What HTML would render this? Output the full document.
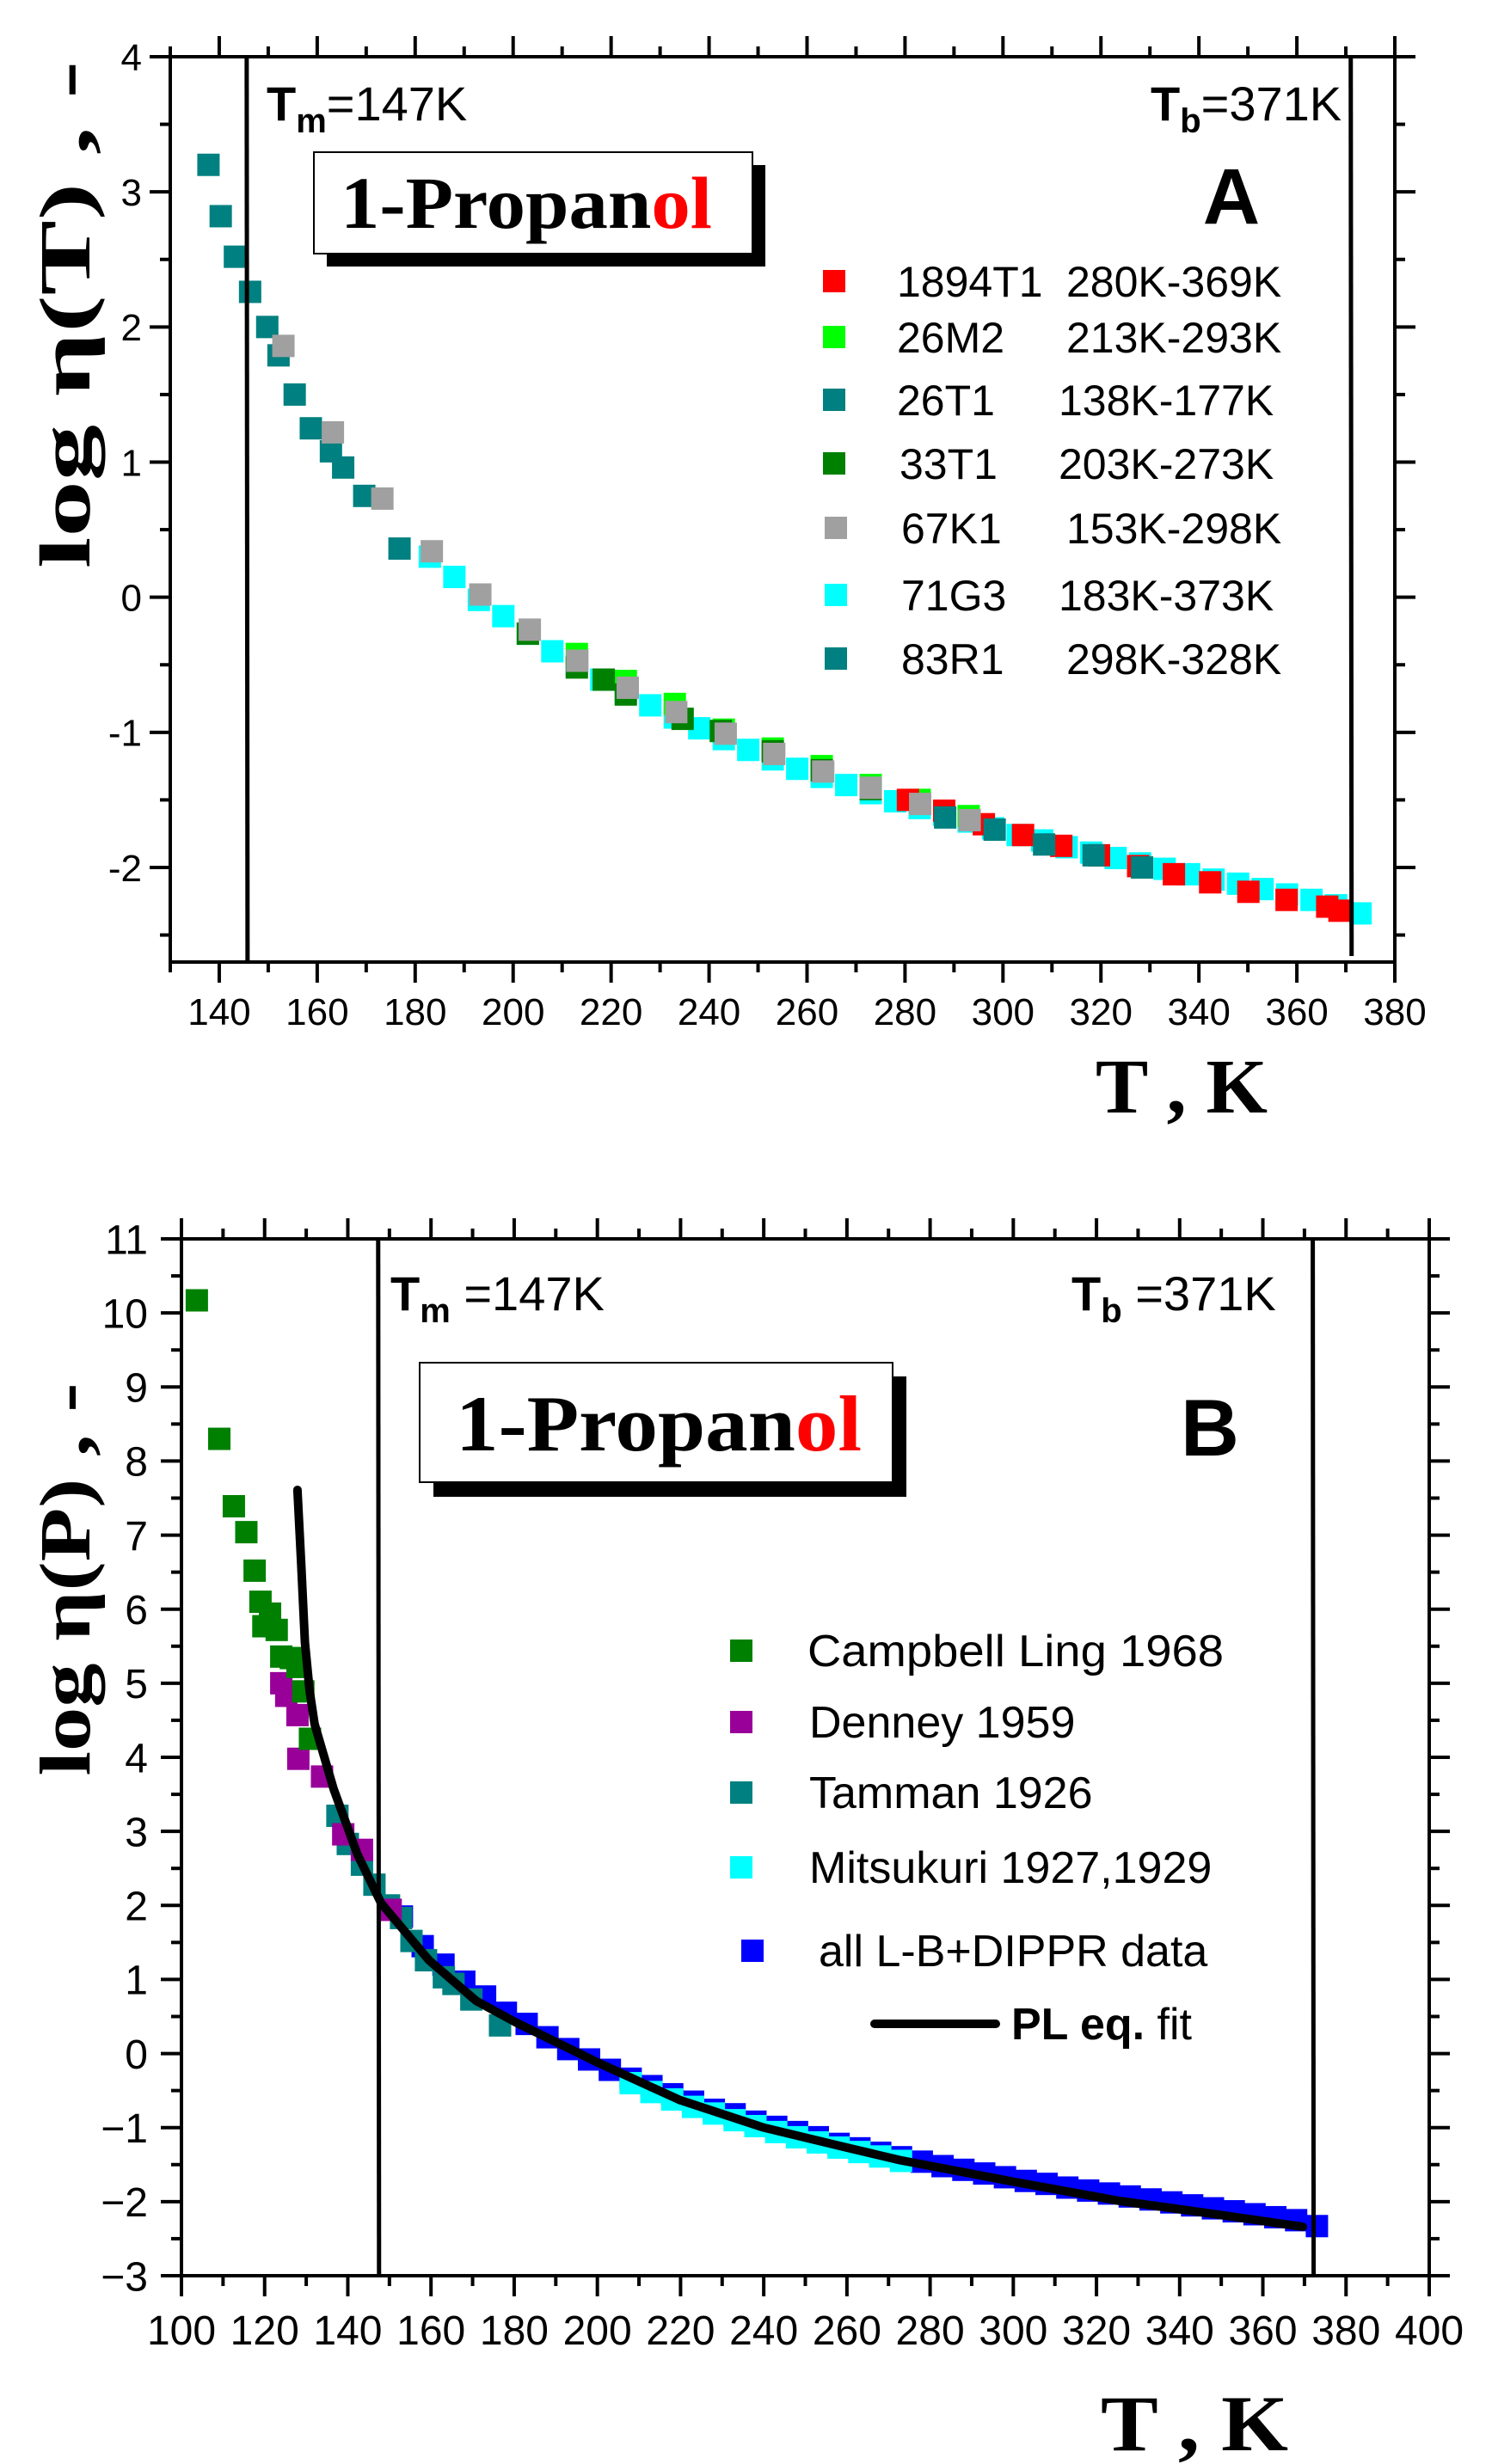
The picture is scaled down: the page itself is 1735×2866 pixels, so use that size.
<!DOCTYPE html>
<html><head><meta charset="utf-8"><style>
html,body{margin:0;padding:0;background:#fff;}
svg{display:block;}
text{font-family:"Liberation Sans",Arial,sans-serif;}
.serif{font-family:"Liberation Serif","Times New Roman",serif;font-weight:bold;}
</style></head><body>
<svg id="fig" width="1735" height="2866" viewBox="0 0 1735 2866" xmlns="http://www.w3.org/2000/svg">
<rect x="0" y="0" width="1735" height="2866" fill="#fff"/>
<g id="pa"></g>
<g id="pb"></g>
</svg>
<script>
// ---------- Panel A data ----------
const aXTicks = [140,160,180,200,220,240,260,280,300,320,340,360,380];
const aYTicks = [-2,-1,0,1,2,3,4];
const a1894T1T = [280.6,288,296.1,304.1,311.9,319.6,327.6,334.9,342.3,350.1,357.9,366.2,368.7];
const a1894T1V = [-1.50,-1.58,-1.68,-1.76,-1.84,-1.91,-1.99,-2.05,-2.11,-2.18,-2.24,-2.29,-2.32];
const a26M2T = [213,223,233,243,253,263,273,283,293];
const a26M2V = [-0.42,-0.62,-0.79,-0.98,-1.12,-1.25,-1.39,-1.50,-1.62];
const a26T1T = [137.8,140.3,143.2,146.3,149.8,152.1,155.4,158.7,162.8,165.3,169.6,176.8];
const a26T1V = [3.20,2.82,2.52,2.26,2.00,1.79,1.50,1.25,1.08,0.96,0.75,0.36];
const a33T1T = [203,213,218.5,223,234.6,242.4,253,263,273];
const a33T1V = [-0.27,-0.52,-0.61,-0.72,-0.90,-0.99,-1.14,-1.28,-1.42];
const a67K1T = [153.1,163.2,173.3,183.4,193.3,203.4,213.1,223.4,233.3,243.4,253.3,263.3,273.0,283.1,293.2];
const a67K1V = [1.86,1.22,0.73,0.34,0.02,-0.24,-0.47,-0.67,-0.85,-1.01,-1.16,-1.29,-1.41,-1.53,-1.65];
const a71G3T = [183,188,193,198,203,208,213,218,223,228,233,238,243,248,253,258,263,268,273,278,283,288,293,298,303,308,313,318,323,328,333,338,343,348,353,358,363,368,373];
const a71G3V = [0.30,0.15,-0.02,-0.14,-0.27,-0.40,-0.51,-0.61,-0.71,-0.80,-0.89,-0.97,-1.05,-1.13,-1.20,-1.27,-1.33,-1.39,-1.45,-1.51,-1.56,-1.61,-1.66,-1.71,-1.76,-1.80,-1.85,-1.89,-1.93,-1.97,-2.01,-2.05,-2.09,-2.12,-2.16,-2.20,-2.24,-2.28,-2.34];
const a83R1T = [288.2,298.3,308.4,318.5,328.4];
const a83R1V = [-1.63,-1.72,-1.83,-1.91,-2.00];

// ---------- Panel B data ----------
const bXTicks = [100,120,140,160,180,200,220,240,260,280,300,320,340,360,380,400];
const bYTicks = [-3,-2,-1,0,1,2,3,4,5,6,7,8,9,10,11];
const bCampT = [103.7,109.1,112.6,115.6,117.6,119,119.7,121.3,122.9,124,126.3,127.9,129.3,130.9];
const bCampV = [10.17,8.30,7.39,7.04,6.52,6.10,5.77,5.94,5.72,5.36,5.34,5.22,4.89,4.25];
const bDenT = [124,125.2,127.9,128.1,133.8,138.9,143.4,150.3];
const bDenV = [5.00,4.83,4.57,3.98,3.74,2.96,2.75,1.94];
const bTamT = [137.5,140,143.4,146.4,149.9,152.8,155.3,158.8,163.1,165.4,169.7,176.6];
const bTamV = [3.21,2.83,2.55,2.28,2.00,1.83,1.52,1.26,1.03,0.94,0.73,0.38];
const bMitT = [208,213,218,223,228,233,238,243,248,253,258,263,268,273];
const bMitV = [-0.40,-0.52,-0.62,-0.72,-0.81,-0.90,-0.98,-1.06,-1.13,-1.20,-1.27,-1.33,-1.39,-1.45];
const bAllT = [153,158,163,168,173,178,183,188,193,198,203,208,213,218,223,228,233,238,243,248,253,258,263,268,273,278,283,288,293,298,303,308,313,318,323,328,333,338,343,348,353,358,363,368,373];
const bAllV = [1.85,1.45,1.20,0.97,0.77,0.55,0.40,0.22,0.06,-0.08,-0.22,-0.34,-0.44,-0.55,-0.65,-0.76,-0.82,-0.92,-0.99,-1.06,-1.13,-1.22,-1.28,-1.34,-1.40,-1.46,-1.52,-1.57,-1.62,-1.67,-1.72,-1.76,-1.81,-1.85,-1.89,-1.93,-1.97,-2.01,-2.05,-2.09,-2.13,-2.17,-2.21,-2.25,-2.33];
const bFitT = [127.9,128.8,129.7,130.8,132,136.6,142.3,148,159.5,170.9,180.4,200,219.9,240,260,272.8,300,325.5,350,369.6];
const bFitV = [7.61,6.6,5.55,4.9,4.45,3.57,2.69,2.03,1.26,0.71,0.42,-0.12,-0.63,-1.0,-1.27,-1.44,-1.73,-1.99,-2.18,-2.34];

const NS="http://www.w3.org/2000/svg";
function mk(tag, attrs, parent){
  const e=document.createElementNS(NS,tag);
  for(const k in attrs) e.setAttribute(k,attrs[k]);
  parent.appendChild(e); return e;
}

function panel(g, cfg){
  const X = t => cfg.x0 + (t-cfg.tmin)*(cfg.x1-cfg.x0)/(cfg.tmax-cfg.tmin);
  const Y = v => cfg.y0 + (cfg.vmax-v)*(cfg.y1-cfg.y0)/(cfg.vmax-cfg.vmin);
  cfg.series.forEach(s=>{
    const sg=mk('g',{},g);
    
    
    s.t.forEach((t,i)=>{
      const r=mk('rect',{x:X(t)-13,y:Y(s.v[i])-13,width:26,height:26,fill:s.color},sg);
      
      
    });
  });
  if(cfg.fit){
    let d='';
    cfg.fit.t.forEach((t,i)=>{ d+=(i?'L':'M')+X(t).toFixed(1)+','+Y(cfg.fit.v[i]).toFixed(1); });
    const p=mk('path',{d:d,fill:'none',stroke:'#000','stroke-width':10,'stroke-linecap':'round','stroke-linejoin':'round'},g);
    
    
  }
  const fr=mk('rect',{x:cfg.x0,y:cfg.y0,width:cfg.x1-cfg.x0,height:cfg.y1-cfg.y0,fill:'none',stroke:'#000','stroke-width':4},g);
  
  
  const tk=mk('g',{stroke:'#000','stroke-width':4},g);
  
  
  for(let t=cfg.tmin; t<=cfg.tmax+0.01; t+=cfg.xminor){
    const major = Math.abs(((t-cfg.xTicks[0])%cfg.xmajor+cfg.xmajor)%cfg.xmajor)<0.01;
    const L = major?24:12; const x=X(t);
    mk('line',{x1:x,y1:cfg.y1,x2:x,y2:cfg.y1+L},tk);
    mk('line',{x1:x,y1:cfg.y0,x2:x,y2:cfg.y0-L},tk);
  }
  for(let v=cfg.vTickStart; v<=cfg.vmax+0.01; v+=0.5){
    const major = Math.abs(v-Math.round(v))<0.01;
    const L = major?24:12; const y=Y(v);
    mk('line',{x1:cfg.x0,y1:y,x2:cfg.x0-L,y2:y},tk);
    mk('line',{x1:cfg.x1,y1:y,x2:cfg.x1+L,y2:y},tk);
  }
  cfg.xTicks.forEach(t=>{
    const e=mk('text',{x:X(t),y:cfg.xLabY,'font-size':cfg.tickFs,'text-anchor':'middle'},g);
    e.textContent=String(t);
    
    
  });
  cfg.yTicks.forEach(v=>{
    const e=mk('text',{x:cfg.yLabX,y:Y(v)+cfg.tickFs*0.36,'font-size':cfg.tickFs,'text-anchor':'end'},g);
    e.textContent=(v<0?cfg.minus:'')+Math.abs(v);
    
    
  });
  const l1=mk('line',{x1:X(cfg.tm),y1:cfg.y0,x2:X(cfg.tm)+1,y2:cfg.y1,stroke:'#000','stroke-width':5},g);
  
  
  const l2=mk('line',{x1:X(cfg.tb),y1:cfg.y0,x2:X(cfg.tb)+1,y2:cfg.tbEnd,stroke:'#000','stroke-width':5},g);
  
  
  return {X,Y};
}

const pa=document.getElementById('pa');
panel(pa,{x0:198,x1:1622,y0:66,y1:1119,tmin:130,tmax:380,vmin:-2.7,vmax:4,
  xTicks:aXTicks,yTicks:aYTicks,xmajor:20,xminor:10,vTickStart:-2.5,minus:'-',
  xLabY:1192,yLabX:165,tickFs:44,tm:145.6,tb:371,tbEnd:1112,
  series:[
    {name:'series-71g3',t:a71G3T,v:a71G3V,color:'#00ffff'},
    {name:'series-26m2',t:a26M2T,v:a26M2V,color:'#00ff00'},
    {name:'series-33t1',t:a33T1T,v:a33T1V,color:'#008000'},
    {name:'series-1894t1',t:a1894T1T,v:a1894T1V,color:'#ff0000'},
    {name:'series-26t1',t:a26T1T,v:a26T1V,color:'#008080'},
    {name:'series-67k1',t:a67K1T,v:a67K1V,color:'#a0a0a0'},
    {name:'series-83r1',t:a83R1T,v:a83R1V,color:'#008080'}
  ]});

const pb=document.getElementById('pb');
panel(pb,{x0:211,x1:1662,y0:1441,y1:2647,tmin:100,tmax:400,vmin:-3,vmax:11,
  xTicks:bXTicks,yTicks:bYTicks,xmajor:20,xminor:10,vTickStart:-3,minus:'\u2212',
  xLabY:2727,yLabX:172,tickFs:48,tm:147.3,tb:372,tbEnd:2647,
  fit:{t:bFitT,v:bFitV},
  series:[
    {name:'series-all-lb-dippr',t:bAllT,v:bAllV,color:'#0000ff'},
    {name:'series-mitsukuri',t:bMitT,v:bMitV,color:'#00ffff'},
    {name:'series-tamman',t:bTamT,v:bTamV,color:'#008080'},
    {name:'series-denney',t:bDenT,v:bDenV,color:'#990099'},
    {name:'series-campbell-ling',t:bCampT,v:bCampV,color:'#008000'}
  ]});
const fitPath=pb.querySelector('path'); pb.appendChild(fitPath);
</script>
<script>
const svg=document.getElementById('fig');
svg.insertAdjacentHTML('beforeend', `
<g>
  <text x="310" y="140" font-size="56"><tspan font-weight="bold">T</tspan><tspan font-weight="bold" font-size="40" dy="14">m</tspan><tspan dy="-14">=147K</tspan></text>
  <text x="1338" y="140" font-size="56"><tspan font-weight="bold">T</tspan><tspan font-weight="bold" font-size="40" dy="14">b</tspan><tspan dy="-14">=371K</tspan></text>
  <rect x="380" y="192" width="510" height="118" fill="#000"/>
  <rect x="365" y="177" width="510" height="118" fill="#fff" stroke="#000" stroke-width="2"/>
  <text class="serif" x="396" y="265" font-size="86" textLength="432" lengthAdjust="spacingAndGlyphs">1-Propan<tspan fill="#ff0000">ol</tspan></text>
  <text x="1432" y="260" font-size="92" font-weight="bold" text-anchor="middle">A</text>
  <g font-size="50">
    <rect x="957" y="314" width="26" height="26" fill="#ff0000"/><text x="1043" y="345">1894T1</text><text x="1240" y="345">280K-369K</text>
    <rect x="957" y="379" width="26" height="26" fill="#00ff00"/><text x="1043" y="410">26M2</text><text x="1240" y="410">213K-293K</text>
    <rect x="957" y="452" width="26" height="26" fill="#008080"/><text x="1043" y="483">26T1</text><text x="1231" y="483">138K-177K</text>
    <rect x="957" y="526" width="26" height="26" fill="#008000"/><text x="1046" y="557">33T1</text><text x="1231" y="557">203K-273K</text>
    <rect x="959" y="601" width="26" height="26" fill="#a0a0a0"/><text x="1048" y="632">67K1</text><text x="1240" y="632">153K-298K</text>
    <rect x="959" y="679" width="26" height="26" fill="#00ffff"/><text x="1048" y="710">71G3</text><text x="1231" y="710">183K-373K</text>
    <rect x="959" y="753" width="26" height="26" fill="#008080"/><text x="1048" y="784">83R1</text><text x="1240" y="784">298K-328K</text>
  </g>
  <text class="serif" x="1274" y="1294" font-size="90" textLength="200" lengthAdjust="spacingAndGlyphs">T , K</text>
  <text class="serif" transform="translate(104,366) rotate(-90)" x="0" y="0" font-size="84" text-anchor="middle" textLength="590" lengthAdjust="spacingAndGlyphs">log η(T) , -</text>
</g>
<g>
  <text x="454" y="1524" font-size="56"><tspan font-weight="bold">T</tspan><tspan font-weight="bold" font-size="40" dy="14">m</tspan><tspan dy="-14"> =147K</tspan></text>
  <text x="1246" y="1524" font-size="56"><tspan font-weight="bold">T</tspan><tspan font-weight="bold" font-size="40" dy="14">b</tspan><tspan dy="-14"> =371K</tspan></text>
  <rect x="504" y="1601" width="550" height="140" fill="#000"/>
  <rect x="488" y="1585" width="550" height="139" fill="#fff" stroke="#000" stroke-width="2"/>
  <text class="serif" x="530" y="1687" font-size="92" textLength="472" lengthAdjust="spacingAndGlyphs">1-Propan<tspan fill="#ff0000">ol</tspan></text>
  <text x="1407" y="1693" font-size="94" font-weight="bold" text-anchor="middle">B</text>
  <g font-size="52">
    <rect x="849" y="1907" width="26" height="26" fill="#008000"/><text x="939" y="1938" textLength="484" lengthAdjust="spacingAndGlyphs">Campbell Ling 1968</text>
    <rect x="849" y="1990" width="26" height="26" fill="#990099"/><text x="941" y="2021">Denney 1959</text>
    <rect x="849" y="2072" width="26" height="26" fill="#008080"/><text x="941" y="2103">Tamman 1926</text>
    <rect x="849" y="2159" width="26" height="26" fill="#00ffff"/><text x="941" y="2190">Mitsukuri 1927,1929</text>
    <rect x="862" y="2256" width="26" height="26" fill="#0000ff"/><text x="952" y="2287">all L-B+DIPPR data</text>
    <line x1="1017" y1="2354" x2="1158" y2="2354" stroke="#000" stroke-width="10" stroke-linecap="round"/>
    <text x="1176" y="2372"><tspan font-weight="bold">PL eq.</tspan> fit</text>
  </g>
  <text class="serif" x="1280" y="2850" font-size="92" textLength="218" lengthAdjust="spacingAndGlyphs">T , K</text>
  <text class="serif" transform="translate(104,1837) rotate(-90)" x="0" y="0" font-size="84" text-anchor="middle" textLength="457" lengthAdjust="spacingAndGlyphs">log η(P) , -</text>
</g>`);
</script>
</body></html>
